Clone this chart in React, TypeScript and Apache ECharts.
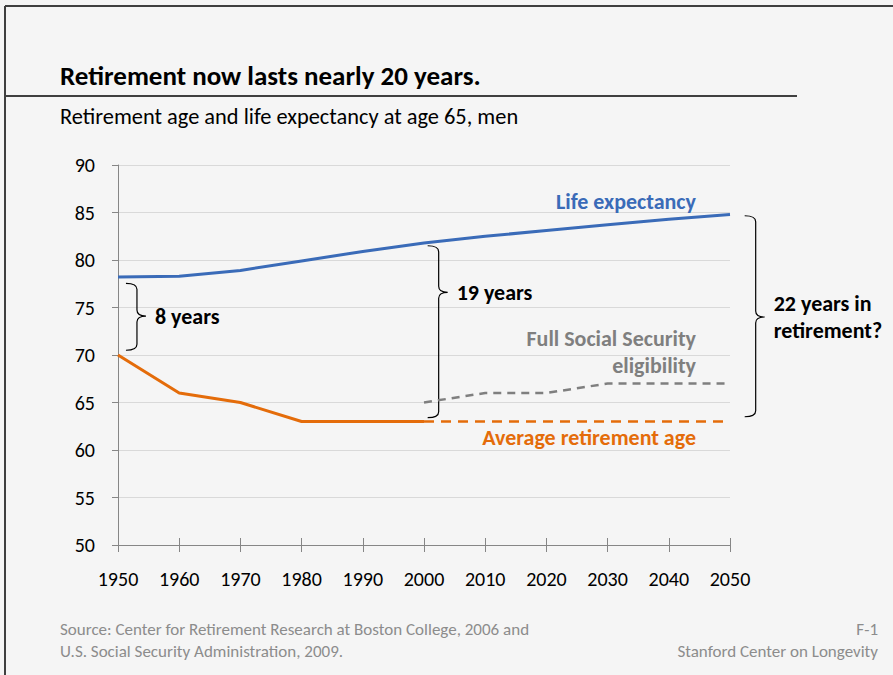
import React, { useEffect, useRef } from "react";
import * as echarts from "echarts";

const years = [1950, 1960, 1970, 1980, 1990, 2000, 2010, 2020, 2030, 2040, 2050];
const lifeExpectancy = [78.2, 78.3, 78.9, 79.9, 80.9, 81.8, 82.5, 83.1, 83.7, 84.3, 84.8];
const retirementYears = [1950, 1960, 1970, 1980, 1990, 2000];
const retirementAge = [70, 66, 65, 63, 63, 63];
const projectedYears = [2000, 2010, 2020, 2030, 2040, 2050];
const retirementAgeProjected = [63, 63, 63, 63, 63, 63];
const ssEligibility = [65, 66, 66, 67, 67, 67];

// brace annotations (data space)
const braceYears = [1951.3, 2000.6, 2052.4];
const braceTops = [77.55, 81.5, 84.66];
const braceTips = [74.1, 76.6, 74.0];
const braceBottoms = [70.5, 63.4, 63.5];
const braceLabels = [["8 years"], ["19 years"], ["22 years in", "retirement?"]];

const FONT = "Carlito, Lato, 'Open Sans', sans-serif";
const BLUE = "#3a6bb8";
const ORANGE = "#e46c0a";
const GRAY = "#7f7f7f";

export default function App() {
  const ref = useRef<HTMLDivElement>(null);
  useEffect(() => {
    if (!ref.current) return;
    const chart = echarts.init(ref.current, undefined, { renderer: "svg" });
    const zip = (xs: number[], ys: number[]) => xs.map((x, i) => [x, ys[i]]);
    chart.setOption({
      animation: false,
      backgroundColor: "#f5f5f5",
      textStyle: { fontFamily: FONT },
      grid: { left: 118, right: 163, top: 165, bottom: 130, containLabel: false },
      xAxis: [
        {
          type: "value",
          min: 1950,
          max: 2050,
          interval: 10,
          axisLine: { show: true, lineStyle: { color: "#868686", width: 1 } },
          axisTick: { show: true, length: 7, lineStyle: { color: "#868686" } },
          axisLabel: { margin: 24, fontSize: 20, color: "#000", fontFamily: FONT, formatter: (v: number) => String(v) },
          splitLine: { show: false },
        },
        {
          type: "value",
          position: "bottom",
          min: 1950,
          max: 2050,
          interval: 10,
          axisLine: { show: false },
          axisTick: { show: true, inside: true, length: 7, lineStyle: { color: "#868686" } },
          axisLabel: { show: false },
          splitLine: { show: false },
        },
      ],
      yAxis: {
        type: "value",
        min: 50,
        max: 90,
        interval: 5,
        axisLine: { show: true, lineStyle: { color: "#868686", width: 1 } },
        axisTick: { show: true, length: 6, lineStyle: { color: "#868686" } },
        axisLabel: { margin: 23, fontSize: 20, color: "#000", fontFamily: FONT },
        splitLine: { show: true, lineStyle: { color: "#d9d9d9", width: 1 } },
      },
      series: [
        {
          type: "line",
          data: zip(years, lifeExpectancy),
          symbol: "none",
          lineStyle: { color: BLUE, width: 3 },
        },
        {
          type: "line",
          data: zip(retirementYears, retirementAge),
          symbol: "none",
          lineStyle: { color: ORANGE, width: 3 },
        },
        {
          type: "line",
          data: zip(projectedYears, retirementAgeProjected),
          symbol: "none",
          lineStyle: { color: ORANGE, width: 2.5, type: [10, 7] },
        },
        {
          type: "line",
          data: zip(projectedYears, ssEligibility),
          symbol: "none",
          lineStyle: { color: GRAY, width: 2.5, type: [8, 6] },
        },
      ],
    });

    const graphics: any[] = [
      { type: "line", shape: { x1: 5, y1: 6, x2: 893, y2: 6 }, style: { stroke: "#404040", lineWidth: 2 } },
      { type: "line", shape: { x1: 5, y1: 6, x2: 5, y2: 675 }, style: { stroke: "#404040", lineWidth: 2 } },
      { type: "line", shape: { x1: 5, y1: 96, x2: 797, y2: 96 }, style: { stroke: "#404040", lineWidth: 2 } },
      {
        type: "text", x: 60, y: 75,
        style: { text: "Retirement now lasts nearly 20 years.", font: `bold 27px ${FONT}`, fill: "#000", textVerticalAlign: "middle" },
      },
      {
        type: "text", x: 60, y: 116,
        style: { text: "Retirement age and life expectancy at age 65, men", font: `22.4px ${FONT}`, fill: "#000", textVerticalAlign: "middle" },
      },
      {
        type: "text", x: 696, y: 201,
        style: { text: "Life expectancy", font: `bold 22px ${FONT}`, fill: BLUE, textAlign: "right", textVerticalAlign: "middle" },
      },
      {
        type: "text", x: 696, y: 338,
        style: { text: "Full Social Security", font: `bold 22px ${FONT}`, fill: GRAY, textAlign: "right", textVerticalAlign: "middle" },
      },
      {
        type: "text", x: 696, y: 365,
        style: { text: "eligibility", font: `bold 22px ${FONT}`, fill: GRAY, textAlign: "right", textVerticalAlign: "middle" },
      },
      {
        type: "text", x: 696, y: 437,
        style: { text: "Average retirement age", font: `bold 22px ${FONT}`, fill: ORANGE, textAlign: "right", textVerticalAlign: "middle" },
      },
      {
        type: "text", x: 60, y: 629,
        style: { text: "Source: Center for Retirement Research at Boston College, 2006 and", font: `17px ${FONT}`, fill: "#8c8c8c", textVerticalAlign: "middle" },
      },
      {
        type: "text", x: 60, y: 651,
        style: { text: "U.S. Social Security Administration, 2009.", font: `17px ${FONT}`, fill: "#8c8c8c", textVerticalAlign: "middle" },
      },
      {
        type: "text", x: 878, y: 629,
        style: { text: "F-1", font: `17px ${FONT}`, fill: "#8c8c8c", textAlign: "right", textVerticalAlign: "middle" },
      },
      {
        type: "text", x: 878, y: 651,
        style: { text: "Stanford Center on Longevity", font: `17px ${FONT}`, fill: "#8c8c8c", textAlign: "right", textVerticalAlign: "middle" },
      },
    ];

    braceYears.forEach((yr, i) => {
      const top = chart.convertToPixel({ xAxisIndex: 0, yAxisIndex: 0 }, [yr, braceTops[i]]) as number[];
      const tip = chart.convertToPixel({ xAxisIndex: 0, yAxisIndex: 0 }, [yr, braceTips[i]]) as number[];
      const bot = chart.convertToPixel({ xAxisIndex: 0, yAxisIndex: 0 }, [yr, braceBottoms[i]]) as number[];
      const xe = top[0];
      const xv = xe + 11;
      const xt = xv + 9;
      const yT = top[1];
      const yM = tip[1];
      const yB = bot[1];
      const r = 6;
      const d = `M${xe},${yT} Q${xv},${yT} ${xv},${yT + r} L${xv},${yM - r} Q${xv},${yM} ${xt},${yM} Q${xv},${yM} ${xv},${yM + r} L${xv},${yB - r} Q${xv},${yB} ${xe},${yB}`;
      const name = `brace${i}`;
      echarts.graphic.registerShape(name, echarts.graphic.extendPath(d, {}) as any);
      graphics.push({ type: name, x: 0, y: 0, style: { stroke: "#000", fill: "none", lineWidth: 1.2 } });
      const lines = braceLabels[i];
      const lineH = 27;
      const startY = yM - ((lines.length - 1) * lineH) / 2;
      lines.forEach((t, j) => {
        graphics.push({
          type: "text",
          x: xt + 9,
          y: startY + j * lineH,
          style: { text: t, font: `bold 22px ${FONT}`, fill: "#000", textVerticalAlign: "middle" },
        });
      });
    });

    chart.setOption({ graphic: graphics });
    return () => chart.dispose();
  }, []);
  return <div ref={ref} style={{ position: "absolute", left: 0, top: 0, width: 893, height: 675 }} />;
}
